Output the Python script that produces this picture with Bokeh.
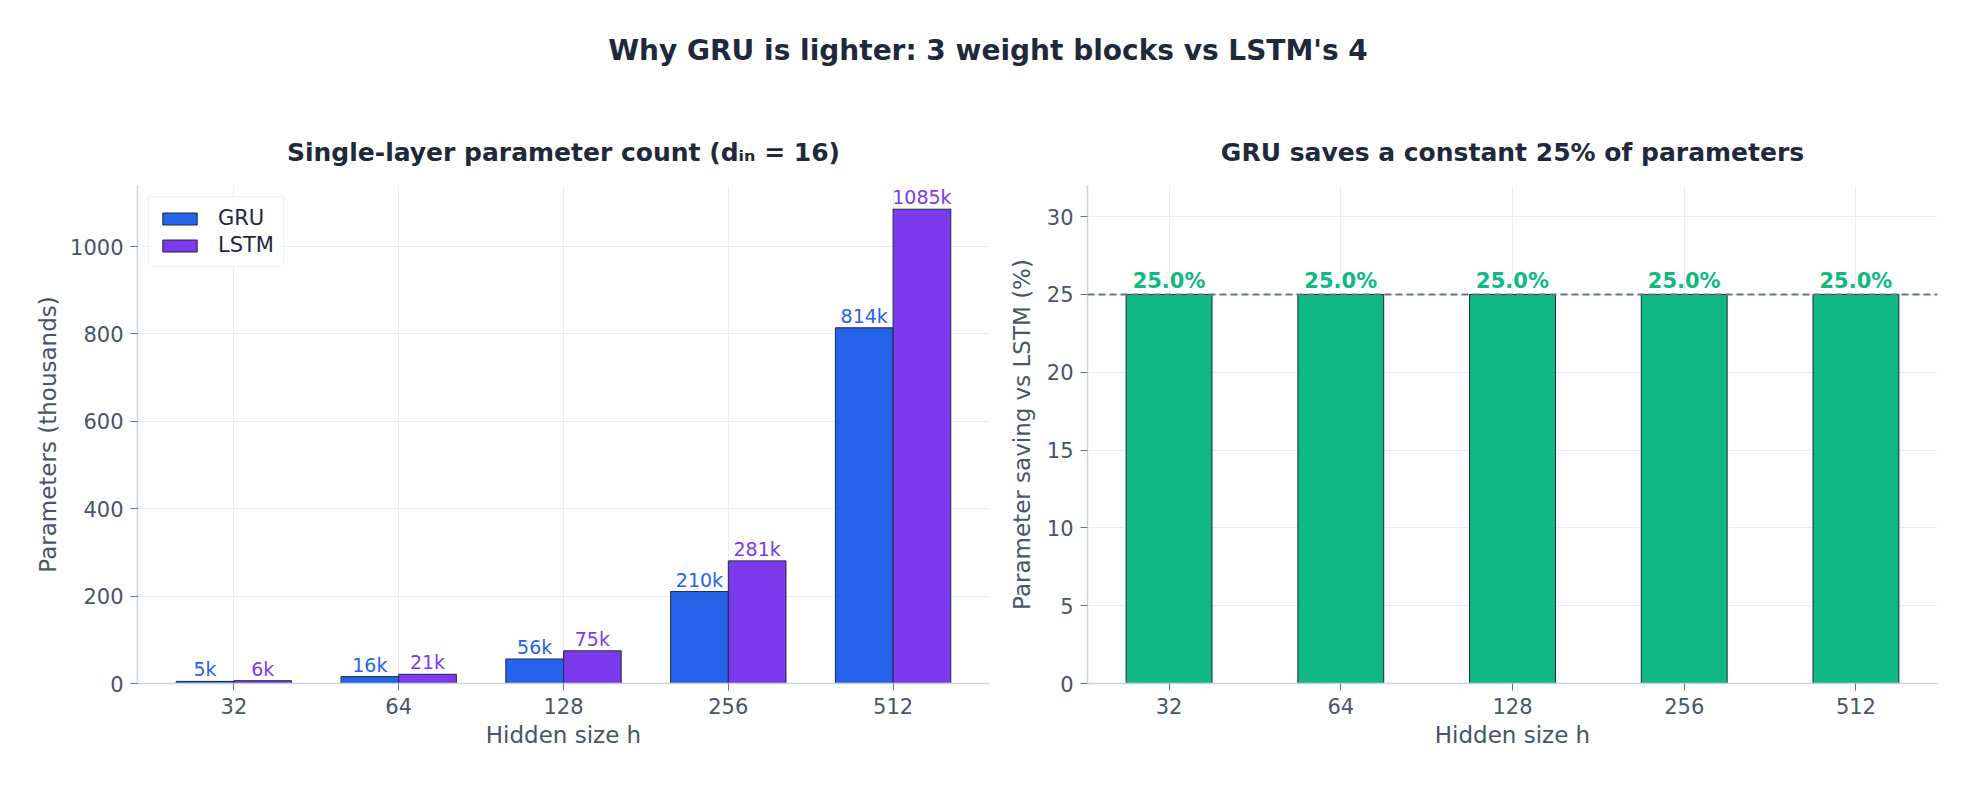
from bokeh.plotting import figure
from bokeh.layouts import column, row
from bokeh.models import ColumnDataSource, Range1d, FixedTicker, LabelSet, Span
from bokeh.transform import dodge
from bokeh.core.properties import value
from bokeh.embed import file_html
from bokeh.resources import INLINE

# ---------------- data ----------------
hidden_sizes = ["32", "64", "128", "256", "512"]
gru_params_k = [4.8, 15.744, 56.064, 210.432, 814.08]
lstm_params_k = [6.4, 20.992, 74.752, 280.576, 1085.44]
gru_labels = ["5k", "16k", "56k", "210k", "814k"]
lstm_labels = ["6k", "21k", "75k", "281k", "1085k"]
saving_pct = [25.0, 25.0, 25.0, 25.0, 25.0]
saving_labels = ["25.0%", "25.0%", "25.0%", "25.0%", "25.0%"]
left_yticks = [0, 200, 400, 600, 800, 1000]
right_yticks = [0, 5, 10, 15, 20, 25, 30]
reference_saving = 25

suptitle = "Why GRU is lighter: 3 weight blocks vs LSTM's 4"
left_title = "Single-layer parameter count (d\u1d62\u2099 = 16)"
right_title = "GRU saves a constant 25% of parameters"
x_label = "Hidden size h"
left_ylabel = "Parameters (thousands)"
right_ylabel = "Parameter saving vs LSTM (%)"

# ---------------- style ----------------
FONT = "DejaVu Sans"
C_GRU = "#2563eb"
C_LSTM = "#7c3aed"
C_SAVE = "#10b981"
C_EDGE = "#1e293b"
C_TITLE = "#1e293b"
C_TEXT = "#475569"
C_SPINE = "#cbd5e1"
C_GRID = "#e2e8f0"

idx = list(range(len(hidden_sizes)))
src = ColumnDataSource(dict(
    x=idx, gru=gru_params_k, lstm=lstm_params_k,
    gru_lbl=gru_labels, lstm_lbl=lstm_labels,
    save=saving_pct, save_lbl=saving_labels,
))

TOP_H = 100
PH = 687


def style(p, yticks, ylab_standoff):
    p.outline_line_color = None
    p.background_fill_color = "white"
    p.border_fill_color = "white"
    p.xaxis.ticker = FixedTicker(ticks=idx)
    p.xaxis.major_label_overrides = {i: s for i, s in zip(idx, hidden_sizes)}
    p.yaxis.ticker = FixedTicker(ticks=yticks)
    for ax in (p.xaxis[0], p.yaxis[0]):
        ax.axis_line_color = C_SPINE
        ax.axis_line_width = 1.5
        ax.major_tick_line_color = "#64748b"
        ax.major_tick_line_width = 1
        ax.major_tick_out = 7
        ax.major_tick_in = 0
        ax.minor_tick_line_color = None
        ax.major_label_text_font = FONT
        ax.major_label_text_font_size = "21px"
        ax.major_label_text_color = C_TEXT
        ax.major_label_standoff = 7
        ax.axis_label_text_font = FONT
        ax.axis_label_text_font_size = "23px"
        ax.axis_label_text_font_style = "normal"
        ax.axis_label_text_color = C_TEXT
    p.xaxis.axis_label_standoff = 5
    p.yaxis.axis_label_standoff = ylab_standoff
    p.grid.grid_line_color = C_GRID
    p.grid.grid_line_alpha = 0.8
    p.grid.grid_line_width = 1
    p.title.text_font = FONT
    p.title.text_font_size = "25px"
    p.title.text_font_style = "bold"
    p.title.text_color = C_TITLE
    p.title.align = "center"
    p.title.standoff = 38


# ---------------- suptitle ----------------
p0 = figure(width=1975, height=TOP_H, x_range=Range1d(0, 1), y_range=Range1d(0, TOP_H),
            x_axis_type=None, y_axis_type=None, min_border=0,
            toolbar_location=None, output_backend="svg")
p0.outline_line_color = None
p0.text(x=[0.5], y=[TOP_H - 50], text=[suptitle], text_font=value(FONT),
        text_font_style="bold", text_font_size=value("28px"), text_color=C_TITLE,
        text_align="center", text_baseline="middle")

# ---------------- left panel ----------------
p1 = figure(width=1000, height=PH, x_range=Range1d(-0.585, 4.585),
            y_range=Range1d(0, max(lstm_params_k) * 1.05),
            title=left_title, toolbar_location=None, output_backend="svg",
            min_border_left=137, min_border_right=11, min_border_top=85,
            min_border_bottom=104, x_axis_label=x_label, y_axis_label=left_ylabel)
style(p1, left_yticks, 6)
p1.vbar(x=dodge("x", -0.175, range=p1.x_range), top="gru", width=0.35, source=src,
        fill_color=C_GRU, line_color=C_EDGE, line_width=1, legend_label="GRU")
p1.vbar(x=dodge("x", 0.175, range=p1.x_range), top="lstm", width=0.35, source=src,
        fill_color=C_LSTM, line_color=C_EDGE, line_width=1, legend_label="LSTM")
p1.add_layout(LabelSet(x=dodge("x", -0.175, range=p1.x_range), y="gru", text="gru_lbl",
                       source=src, text_align="center", text_baseline="alphabetic",
                       y_offset=5, text_font=value(FONT), text_font_size=value("19px"),
                       text_color=C_GRU))
p1.add_layout(LabelSet(x=dodge("x", 0.175, range=p1.x_range), y="lstm", text="lstm_lbl",
                       source=src, text_align="center", text_baseline="alphabetic",
                       y_offset=5, text_font=value(FONT), text_font_size=value("19px"),
                       text_color=C_LSTM))
lg = p1.legend[0]
lg.location = "top_left"
lg.label_text_font = FONT
lg.label_text_font_size = "21px"
lg.label_text_color = C_TITLE
lg.glyph_width = 43
lg.glyph_height = 15
lg.label_height = 22
lg.label_standoff = 17
lg.spacing = 3
lg.padding = 9
lg.margin = 11
lg.border_line_color = C_GRID
lg.border_line_width = 1.5
lg.background_fill_alpha = 0.9

# ---------------- right panel ----------------
p2 = figure(width=975, height=PH, x_range=Range1d(-0.475, 4.475), y_range=Range1d(0, 32),
            title=right_title, toolbar_location=None, output_backend="svg",
            min_border_left=87, min_border_right=38, min_border_top=85,
            min_border_bottom=104, x_axis_label=x_label, y_axis_label=right_ylabel)
style(p2, right_yticks, 9)
p2.vbar(x="x", top="save", width=0.5, source=src, fill_color=C_SAVE,
        line_color=C_EDGE, line_width=1)
p2.add_layout(Span(location=reference_saving, dimension="width", line_color="#64748b",
                   line_width=2, line_dash="7 4"))
p2.add_layout(LabelSet(x="x", y="save", text="save_lbl", source=src, text_align="center",
                       text_baseline="alphabetic", y_offset=6, text_font=value(FONT),
                       text_font_size=value("21px"), text_font_style="bold",
                       text_color=C_SAVE))

layout = column(p0, row(p1, p2))
open("out.html", "w").write(file_html(layout, INLINE))
